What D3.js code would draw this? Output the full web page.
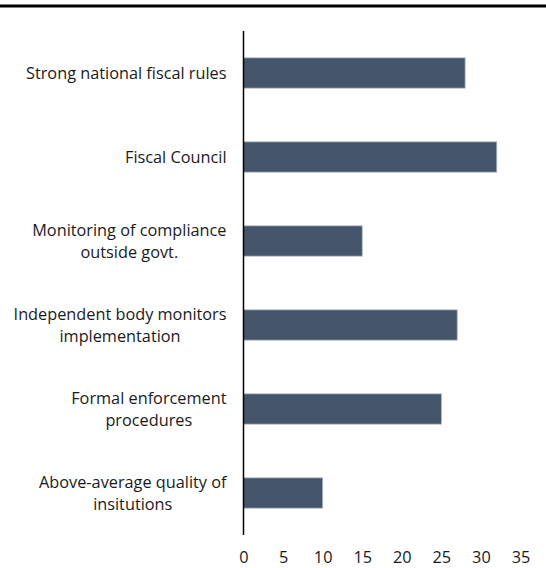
<!DOCTYPE html>
<html><head><meta charset="utf-8">
<script src="https://cdn.jsdelivr.net/npm/d3@7"></script>
<style>body{margin:0;background:#fff}svg{display:block}</style>
</head><body>
<script>
const categories = [
  ["Strong national fiscal rules"],
  ["Fiscal Council"],
  ["Monitoring of compliance", "outside govt."],
  ["Independent body monitors", "implementation"],
  ["Formal enforcement", "procedures"],
  ["Above-average quality of", "insitutions"]
];
const values = [28, 32, 15, 27, 25, 10];
const tickValues = [0, 5, 10, 15, 20, 25, 30, 35];

const W = 546, H = 568;
const svg = d3.select("body").append("svg").attr("width", W).attr("height", H);
const font = "'Open Sans', sans-serif";
const fs = 16.3;

// top rule
svg.append("line").attr("x1", 0).attr("x2", W).attr("y1", 6).attr("y2", 6)
  .attr("stroke", "#000").attr("stroke-width", 3);

const x0 = 243.5, x1 = 520.5;
const x = d3.scaleLinear().domain([0, 35]).range([x0, x1]);
const idx = d3.range(categories.length);
const y = d3.scaleBand().domain(idx).range([31, 535]).paddingInner(0.64).paddingOuter(0.32);

svg.selectAll("rect.bar").data(idx).enter().append("rect")
  .attr("class", "bar")
  .attr("x", x(0))
  .attr("y", i => y(i))
  .attr("width", i => x(values[i]) - x(0))
  .attr("height", y.bandwidth())
  .attr("fill", "#44546a")
  .attr("stroke", "#a9b3c2").attr("stroke-width", 0.8);

// axis line
svg.append("line").attr("x1", x0).attr("x2", x0).attr("y1", 31).attr("y2", 535)
  .attr("stroke", "#000").attr("stroke-width", 1.5);

// tick labels
const xAxis = d3.axisBottom(x).tickValues(tickValues).tickSize(0).tickPadding(0);
const ax = svg.append("g").attr("transform", "translate(0,563)").call(xAxis);
ax.select(".domain").remove();
ax.selectAll("text").attr("font-family", font).attr("font-size", fs).attr("fill", "#1a1a1a")
  .attr("y", 0).attr("dy", 0);

// category labels
const rightEdge = 226.5;
idx.forEach(i => {
  const lines = categories[i];
  const g = svg.append("g");
  const cy = y(i) + y.bandwidth() / 2;
  const lh = 22;
  const texts = lines.map((t, k) => g.append("text")
    .attr("font-family", font).attr("font-size", fs).attr("fill", "#1a1a1a")
    .attr("text-anchor", "middle")
    .attr("y", cy + (k - (lines.length - 1) / 2) * lh)
    .attr("dy", "0.35em")
    .text(t));
  const maxW = d3.max(texts, t => t.node().getComputedTextLength());
  texts.forEach(t => t.attr("x", rightEdge - maxW / 2));
});
</script>
</body></html>
